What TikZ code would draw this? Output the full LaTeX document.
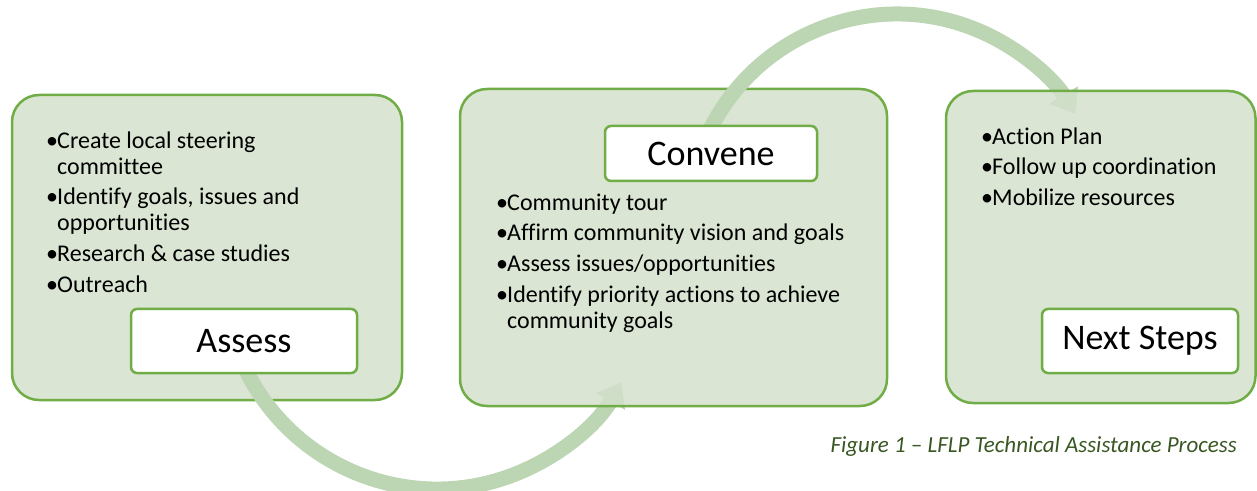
\documentclass[tikz,border=0pt]{standalone}
\usepackage{fontspec}
\setmainfont[Ligatures={NoCommon,NoContextual}]{Carlito}
\usetikzlibrary{arrows.meta}
\definecolor{gborder}{RGB}{112,173,71}
\definecolor{gfill}{RGB}{211,224,203}
\definecolor{garc}{RGB}{188,214,180}
\definecolor{gcap}{RGB}{56,87,35}
\newcommand\bul{\makebox[11pt][l]{•}}
\begin{document}
\begin{tikzpicture}[x=1pt,y=1pt,
  bigbox/.style={draw=gborder, line width=2.5pt, fill=gfill, fill opacity=0.85, draw opacity=1, rounded corners=27pt, inner sep=0pt},
  lblbox/.style={draw=gborder, line width=2.5pt, fill=white, rounded corners=6pt, inner sep=0pt, font=\fontsize{36}{40}\selectfont},
  btxt/.style={anchor=base west, inner sep=0pt, font=\fontsize{24}{26}\selectfont},
  arcarrow/.style={draw=garc, line width=15pt, -{Triangle[width=32pt,length=22pt]}}]
\useasboundingbox (0,0) rectangle (1257,490);
\clip (0,0) rectangle (1257,490);
\coordinate (c1) at (437,214);
\coordinate (c2) at (897,267);
% box 1
\node[bigbox, minimum width=390pt, minimum height=305pt] (b1) at (207,242.5) {};
\draw[arcarrow] ([shift={(200:213)}]c1) arc[start angle=200, end angle=330, radius=213];
\node[lblbox, minimum width=226pt, minimum height=64pt] (l1) at (244,149) {Assess};
\node[btxt] (a1) at (46,341) {\bul Create local steering};
\node[btxt] (a1b) at (57,315) {committee};
\node[btxt] (a2) at (46,285) {\bul Identify goals, issues and};
\node[btxt] (a2b) at (57,259) {opportunities};
\node[btxt] (a3) at (46,228) {\bul Research \& case studies};
\node[btxt] (a4) at (46,197) {\bul Outreach};
% box 2
\node[bigbox, minimum width=427pt, minimum height=317pt] (b2) at (673.5,242.5) {};
\draw[arcarrow] ([shift={(155:209)}]c2) arc[start angle=155, end angle=31.5, radius=209];
\node[lblbox, minimum width=212pt, minimum height=55pt] (l2) at (711,336.5) {Convene};
\node[btxt] (c1t) at (496,279) {\bul Community tour};
\node[btxt] (c2t) at (496,249) {\bul Affirm community vision and goals};
\node[btxt] (c3t) at (496,218) {\bul Assess issues/opportunities};
\node[btxt] (c4t) at (496,187) {\bul Identify priority actions to achieve};
\node[btxt] (c4b) at (507,161) {community goals};
% box 3
\node[bigbox, minimum width=309.5pt, minimum height=312pt] (b3) at (1100.75,243) {};
\node[lblbox, minimum width=196pt, minimum height=64pt] (l3) at (1140,149) {Next Steps};
\node[btxt] (n1) at (981,345) {\bul Action Plan};
\node[btxt] (n2) at (981,315) {\bul Follow up coordination};
\node[btxt] (n3) at (981,284) {\bul Mobilize resources};
% caption
\node[anchor=base east, inner sep=0pt, font=\fontsize{23}{26}\selectfont\itshape, text=gcap] (cap) at (1237,38) {Figure 1 – LFLP Technical Assistance Process};
\end{tikzpicture}
\end{document}
